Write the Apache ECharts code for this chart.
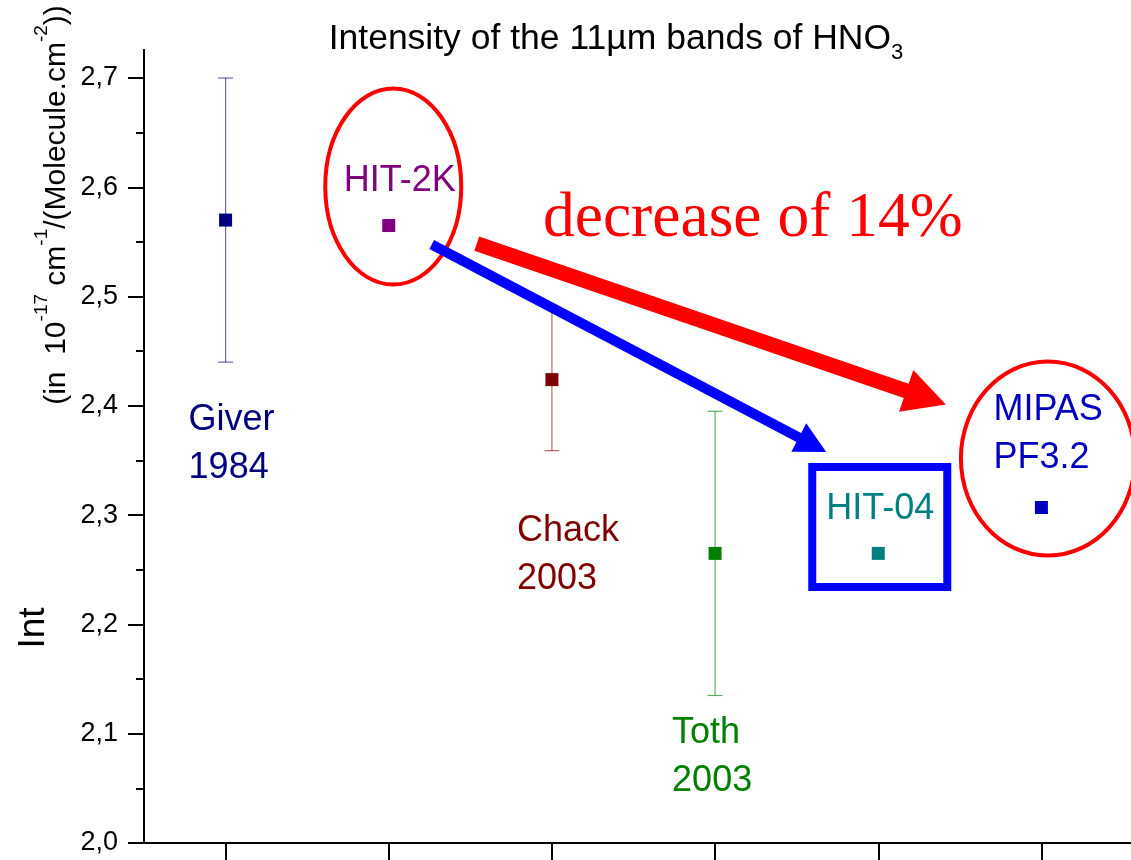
<!DOCTYPE html>
<html>
<head>
<meta charset="utf-8">
<script src="https://cdn.jsdelivr.net/npm/echarts@6/dist/echarts.min.js"></script>
<style>
  html, body { margin: 0; padding: 0; background: #ffffff; }
  #chart { width: 1131px; height: 860px; }
</style>
</head>
<body>
<div id="chart"></div>
<script>
// Integrated intensity of the 11 µm bands of HNO3, one point per source
const sources = ['Giver 1984', 'HIT-2K', 'Chack 2003', 'Toth 2003', 'HIT-04', 'MIPAS PF3.2'];
const intensity = [2.570, 2.565, 2.424, 2.265, 2.265, 2.307];
const uncertainty = [0.13, null, 0.065, 0.13, null, null];
const labelLines = [['Giver', '1984'], ['HIT-2K'], ['Chack', '2003'], ['Toth', '2003'], ['HIT-04'], ['MIPAS', 'PF3.2']];
const yTicks = [2.0, 2.1, 2.2, 2.3, 2.4, 2.5, 2.6, 2.7];
const titleText = 'Intensity of the 11µm bands of HNO';
const titleSub = '3';
const changeText = 'decrease of 14%';

// Styling
const pointColors = ['#000080', '#800080', '#800000', '#008000', '#008080', '#0000C0'];
const SANS = '"Liberation Sans", Arial, Helvetica, sans-serif';
const SERIF = '"Liberation Serif", "Times New Roman", serif';

// Where each source's name sits, relative to its point (pixels)
const labelPlacement = [
  { dx: -37, dy: 200, align: 'left' },
  { dx: 11, dy: -44, align: 'center' },
  { dx: -35, dy: 151, align: 'left' },
  { dx: -43, dy: 180, align: 'left' },
  { dx: 2, dy: -44, align: 'center' },
  { dx: -48, dy: -97, align: 'left' }
];
const LINE_GAP = 48;

const chart = echarts.init(document.getElementById('chart'), null, { renderer: 'canvas' });

const errorData = [];
uncertainty.forEach((e, i) => {
  if (e != null) errorData.push([i, intensity[i] - e, intensity[i] + e]);
});

const option = {
  animation: false,
  backgroundColor: '#ffffff',
  grid: { left: 144, right: 8, top: 78, bottom: 17, containLabel: false },
  xAxis: {
    type: 'category',
    data: sources,
    boundaryGap: true,
    axisLine: { show: true, lineStyle: { color: '#000', width: 2 } },
    axisTick: { show: true, alignWithLabel: true, length: 17, lineStyle: { color: '#000', width: 2 } },
    axisLabel: { show: false },
    splitLine: { show: false }
  },
  yAxis: {
    type: 'value',
    min: yTicks[0],
    max: yTicks[yTicks.length - 1],
    interval: 0.1,
    axisLine: { show: true, lineStyle: { color: '#000', width: 2 } },
    axisTick: { show: true, length: 16, lineStyle: { color: '#000', width: 2 } },
    minorTick: { show: true, splitNumber: 2, length: 8, lineStyle: { color: '#000', width: 2 } },
    axisLabel: {
      margin: 26,
      color: '#000',
      fontFamily: SANS,
      fontSize: 27,
      formatter: v => v.toFixed(1).replace('.', ',')
    },
    splitLine: { show: false },
    minorSplitLine: { show: false }
  },
  series: [
    {
      type: 'custom',
      name: 'uncertainty',
      z: 1,
      encode: { x: 0, y: [1, 2] },
      data: errorData,
      renderItem: (params, api) => {
        const i = api.value(0);
        const lo = api.coord([i, api.value(1)]);
        const hi = api.coord([i, api.value(2)]);
        const hw = 7.5;
        const style = { stroke: pointColors[i], lineWidth: 1.2, opacity: 0.6 };
        return {
          type: 'group',
          children: [
            { type: 'line', shape: { x1: hi[0], y1: hi[1], x2: lo[0], y2: lo[1] }, style },
            { type: 'line', shape: { x1: hi[0] - hw, y1: hi[1], x2: hi[0] + hw, y2: hi[1] }, style },
            { type: 'line', shape: { x1: lo[0] - hw, y1: lo[1], x2: lo[0] + hw, y2: lo[1] }, style }
          ]
        };
      }
    },
    {
      type: 'scatter',
      name: 'intensity',
      z: 3,
      symbol: 'rect',
      symbolSize: 13,
      itemStyle: { opacity: 1 },
      data: intensity.map((v, i) => ({ value: [i, v], itemStyle: { color: pointColors[i], opacity: 1 } }))
    }
  ]
};

chart.setOption(option);

function px(i, v) {
  return chart.convertToPixel({ xAxisIndex: 0, yAxisIndex: 0 }, [i, v]);
}

function arrowShape(p0, p1, shaftW, headL, headHW) {
  const dx = p1[0] - p0[0], dy = p1[1] - p0[1];
  const L = Math.hypot(dx, dy);
  const ux = dx / L, uy = dy / L, nx = -uy, ny = ux;
  const bx = p1[0] - ux * headL, by = p1[1] - uy * headL;
  const s = shaftW / 2;
  return [
    [p0[0] + nx * s, p0[1] + ny * s],
    [bx + nx * s, by + ny * s],
    [bx + nx * headHW, by + ny * headHW],
    [p1[0], p1[1]],
    [bx - nx * headHW, by - ny * headHW],
    [bx - nx * s, by - ny * s],
    [p0[0] - nx * s, p0[1] - ny * s]
  ];
}

function buildGraphics() {
  const pts = intensity.map((v, i) => px(i, v));
  const rect = chart.getModel().getComponent('grid').coordinateSystem.getRect();
  const g = [];

  // axis line overhangs: x axis runs past both ends, y axis rises above the last tick
  g.push({ type: 'line', z: 5, shape: { x1: rect.x - 14, y1: rect.y + rect.height, x2: rect.x, y2: rect.y + rect.height }, style: { stroke: '#000', lineWidth: 2 } });
  g.push({ type: 'line', z: 5, shape: { x1: rect.x + rect.width, y1: rect.y + rect.height, x2: 1131, y2: rect.y + rect.height }, style: { stroke: '#000', lineWidth: 2 } });
  g.push({ type: 'line', z: 5, shape: { x1: rect.x, y1: rect.y - 29, x2: rect.x, y2: rect.y + 1 }, style: { stroke: '#000', lineWidth: 2 } });

  // title with subscript
  g.push({
    type: 'text', z: 10, x: 616, y: 39,
    style: {
      text: '{m|' + titleText + '}{s|' + titleSub + '}',
      align: 'center', verticalAlign: 'middle',
      rich: {
        m: { fontFamily: SANS, fontSize: 35.5, lineHeight: 50, fill: '#000', verticalAlign: 'middle' },
        s: { fontFamily: SANS, fontSize: 22, lineHeight: 22, fill: '#000', verticalAlign: 'bottom' }
      }
    }
  });

  // y axis titles
  g.push({
    type: 'text', z: 10, x: 34, y: 628, rotation: Math.PI / 2,
    style: { text: 'Int', fontFamily: SANS, fontSize: 37, fill: '#000', align: 'center', verticalAlign: 'middle' }
  });
  g.push({
    type: 'text', z: 10, x: 52, y: 205, rotation: Math.PI / 2,
    style: {
      text: '{m|(in  10}{u|-17}{m| cm}{u|-1}{m|/(Molecule.cm}{u|-2}{m|))}',
      align: 'center', verticalAlign: 'middle',
      rich: {
        m: { fontFamily: SANS, fontSize: 30, lineHeight: 40, fill: '#000', verticalAlign: 'bottom' },
        u: { fontFamily: SANS, fontSize: 19, lineHeight: 22, fill: '#000', verticalAlign: 'top' }
      }
    }
  });

  // source names
  labelLines.forEach((lines, i) => {
    const pl = labelPlacement[i];
    lines.forEach((t, k) => {
      g.push({
        type: 'text', z: 10,
        x: pts[i][0] + pl.dx, y: pts[i][1] + pl.dy + k * LINE_GAP,
        style: { text: t, fontFamily: SANS, fontSize: 36, fill: pointColors[i], align: pl.align, verticalAlign: 'middle' }
      });
    });
  });

  // highlight marks around HIT-2K, HIT-04 and MIPAS
  g.push({
    type: 'ellipse', z: 8,
    shape: { cx: pts[1][0] + 4.5, cy: pts[1][1] - 39, rx: 68, ry: 98 },
    style: { fill: null, stroke: '#ff0000', lineWidth: 4 }
  });
  g.push({
    type: 'ellipse', z: 8,
    shape: { cx: pts[5][0] + 6.5, cy: pts[5][1] - 49, rx: 87, ry: 97 },
    style: { fill: null, stroke: '#ff0000', lineWidth: 4 }
  });
  g.push({
    type: 'rect', z: 8,
    shape: { x: pts[4][0] - 66, y: pts[4][1] - 86.5, width: 135, height: 120 },
    style: { fill: null, stroke: '#0000ff', lineWidth: 8 }
  });

  // arrows from HIT-2K towards HIT-04 and MIPAS
  g.push({
    type: 'polygon', z: 9,
    shape: { points: arrowShape([pts[1][0] + 43, pts[1][1] + 19], [pts[4][0] - 52, pts[4][1] - 101.5], 10, 31, 16) },
    style: { fill: '#0000ff' }
  });
  g.push({
    type: 'polygon', z: 9,
    shape: { points: arrowShape([pts[1][0] + 88, pts[1][1] + 18], [pts[5][0] - 95.5, pts[5][1] - 103], 15, 42, 22) },
    style: { fill: '#ff0000' }
  });

  g.push({
    type: 'text', z: 10, x: 543, y: 219,
    style: { text: changeText, fontFamily: SERIF, fontSize: 63.5, fill: '#ff0000', align: 'left', verticalAlign: 'middle' }
  });

  chart.setOption({ graphic: g });
}

buildGraphics();
</script>
</body>
</html>
